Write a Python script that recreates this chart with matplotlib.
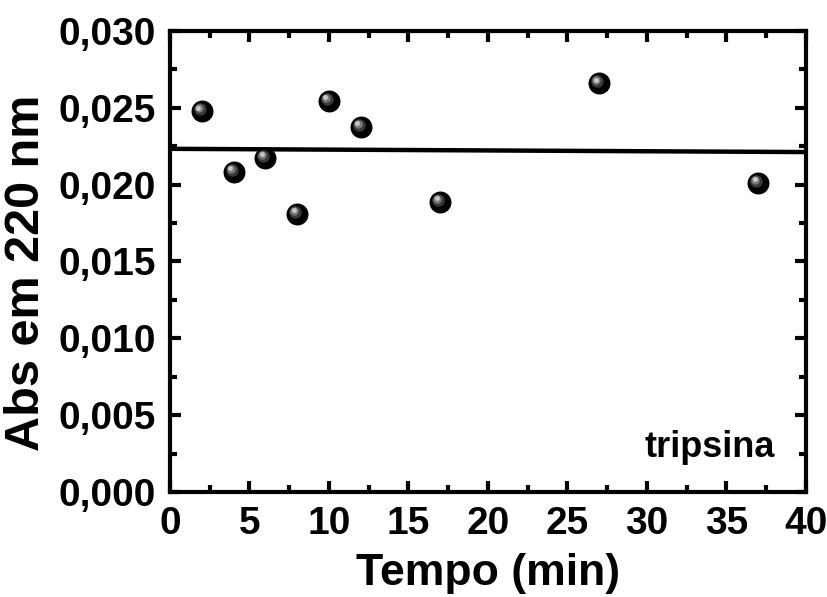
import numpy as np
import matplotlib.pyplot as plt
from matplotlib.ticker import MultipleLocator, FuncFormatter
from matplotlib.transforms import offset_copy

# tempo (min) e absorbancia a 220 nm
tempo = [2, 4, 6, 8, 10, 12, 17, 27, 37]
absorb = [0.02479, 0.02083, 0.02176, 0.01811, 0.02546, 0.02377, 0.01889, 0.0266, 0.02013]

x_ticks = [0, 5, 10, 15, 20, 25, 30, 35, 40]
y_ticks = [0.000, 0.005, 0.010, 0.015, 0.020, 0.025, 0.030]

plt.rcParams['font.family'] = ['Liberation Sans', 'DejaVu Sans']
plt.rcParams['font.weight'] = 'bold'

fig = plt.figure(figsize=(8.28, 5.97), dpi=100)
ax = fig.add_axes([0.2053, 0.1759, 0.768, 0.7722])

# ajuste linear
coef = np.polyfit(tempo, absorb, 1)
xf = np.array([0, 40])
ax.plot(xf, np.polyval(coef, xf), color='black', lw=3.2, zorder=2)

# esferas: base preta + brilho
ax.plot(tempo, absorb, 'o', ms=14.8, color='black', mec='black', zorder=3)
shades = [(9, '#3a3a3a', 2), (6, '#7a7a7a', 3), (3.5, '#c8c8c8', 3.5)]
for ms, col, off in shades:
    tr = offset_copy(ax.transData, fig=fig, x=-off, y=off, units='dots')
    ax.plot(tempo, absorb, 'o', ms=ms, color=col, mec='none', transform=tr, zorder=4)

ax.set_xlim(0, 40)
ax.set_ylim(0, 0.030)
ax.set_xticks(x_ticks)
ax.set_yticks(y_ticks)
ax.xaxis.set_minor_locator(MultipleLocator(2.5))
ax.yaxis.set_minor_locator(MultipleLocator(0.0025))
ax.yaxis.set_major_formatter(FuncFormatter(lambda v, p: f"{v:.3f}".replace('.', ',')))

ax.tick_params(which='both', direction='in', top=True, right=True, width=3)
ax.tick_params(which='major', length=8, labelsize=28, pad=10)
ax.tick_params(which='minor', length=5)
for s in ax.spines.values():
    s.set_linewidth(3)

ax.set_xlabel('Tempo (min)', fontsize=32, fontweight='bold', va='top')
ax.set_ylabel('Abs em 220 nm', fontsize=35, fontweight='bold')
ax.xaxis.set_label_coords(0.5, -0.132)
ax.yaxis.set_label_coords(-0.19, 0.475)

ax.text(0.951, 0.076, 'tripsina', transform=ax.transAxes, ha='right', va='baseline',
        fontsize=26, fontweight='bold')

fig.savefig('out.png', dpi=100)
